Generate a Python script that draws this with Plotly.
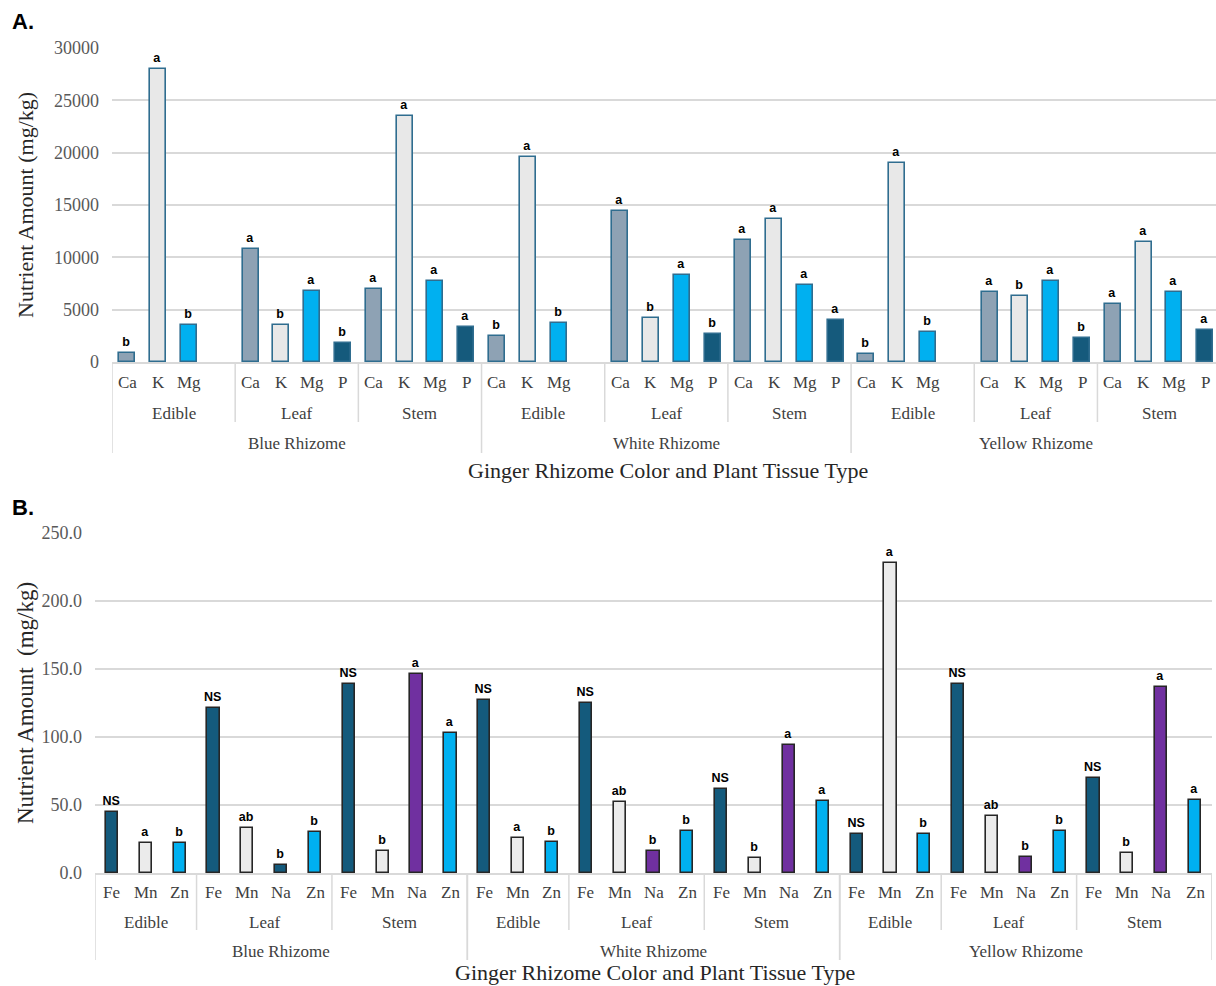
import plotly.graph_objects as go

W, H = 1216, 986

# ---------------- Panel A: macronutrients ----------------
a_rhizomes = ["Blue Rhizome", "White Rhizome", "Yellow Rhizome"]
a_tissues = ["Edible", "Leaf", "Stem"]
a_elements = ["Ca", "K", "Mg", "P"]

# values per rhizome, ordered Edible(Ca,K,Mg,P) Leaf(...) Stem(...); Edible has no P
a_blue = [900, 28000, 3500, None, 10800, 3500, 6800, 1800, 7000, 23500, 7700, 3300]
a_white = [2500, 19600, 3700, None, 14400, 4200, 8300, 2700, 11700, 13700, 7400, 4000]
a_yellow = [800, 19000, 2900, None, 6700, 6300, 7700, 2300, 5500, 11500, 6700, 3100]

a_blue_sig = ["b", "a", "b", "", "a", "b", "a", "b", "a", "a", "a", "a"]
a_white_sig = ["b", "a", "b", "", "a", "b", "a", "b", "a", "a", "a", "a"]
a_yellow_sig = ["b", "a", "b", "", "a", "b", "a", "b", "a", "a", "a", "a"]

a_ticks = [0, 5000, 10000, 15000, 20000, 25000, 30000]

# ---------------- Panel B: micronutrients ----------------
b_rhizomes = ["Blue Rhizome", "White Rhizome", "Yellow Rhizome"]
b_tissues = ["Edible", "Leaf", "Stem"]
b_tissue_elements = [["Fe", "Mn", "Zn"], ["Fe", "Mn", "Na", "Zn"], ["Fe", "Mn", "Na", "Zn"]]

b_blue = [45, 22, 22, 121, 33, 6, 30, 139, 16, 146, 103]
b_white = [127, 26, 23, 125, 52, 16, 31, 62, 11, 94, 53]
b_yellow = [29, 228, 29, 139, 42, 12, 31, 70, 15, 137, 54]

b_blue_sig = ["NS", "a", "b", "NS", "ab", "b", "b", "NS", "b", "a", "a"]
b_white_sig = ["NS", "a", "b", "NS", "ab", "b", "b", "NS", "b", "a", "a"]
b_yellow_sig = ["NS", "a", "b", "NS", "ab", "b", "b", "NS", "b", "a", "a"]

b_ticks = [0, 50, 100, 150, 200, 250]

# ---------------- styling ----------------
SERIF = "Liberation Serif"
SANS = "Liberation Sans"
LABEL_C = "#404040"
GRID_C = "#d9d9d9"

a_fill = {"Ca": "#8ea2b4", "K": "#e8e8e8", "Mg": "#00b0f0", "P": "#155a7c"}
a_edge = "#2f6d8f"
b_fill = {"Fe": "#145a7c", "Mn": "#ebebeb", "Na": "#7030a0", "Zn": "#00b0f0"}
b_edge = "#262626"
# the Blue Rhizome leaf sodium bar is drawn in the iron colour
b_fill_override = {("Blue Rhizome", "Leaf", "Na"): "#145a7c"}


def ypx(p):
    return 1 - p / H


def label(x, y, text, xref, size=17, color=LABEL_C, family=SERIF, angle=0):
    return dict(x=x, y=y, xref=xref, yref="paper", text=text, showarrow=False,
                xanchor="center", yanchor="middle", textangle=angle,
                font=dict(family=family, size=size, color=color))


fig = go.Figure()
annotations = []
shapes = []

# ---- build panel A ----
ax_x, ax_y, ax_lab, ax_sig, ax_col = [], [], [], [], []
for r, vals, sig in zip(range(3), [a_blue, a_white, a_yellow], [a_blue_sig, a_white_sig, a_yellow_sig]):
    for t in range(3):
        for s, el in enumerate(a_elements):
            i = t * 4 + s
            v = vals[i]
            ax_x.append(r * 12 + t * 4 + s)
            ax_y.append(v)
            ax_lab.append(el if v is not None else "")
            ax_sig.append(f"<b>{sig[i]}</b>" if sig[i] else "")
            ax_col.append(a_fill[el])

fig.add_trace(go.Bar(
    x=ax_x, y=ax_y, xaxis="x", yaxis="y", width=0.52,
    marker=dict(color=ax_col, line=dict(color=a_edge, width=1.6)),
    text=ax_sig, textposition="outside", cliponaxis=False,
    textfont=dict(family=SANS, size=12.5, color="#000000"),
    constraintext="none", hoverinfo="x+y", showlegend=False,
))

a_axis_px, a_elem_px, a_tis_px, a_rh_px = 362, 383, 413, 443
for x, lab in zip(ax_x, ax_lab):
    annotations.append(label(x, ypx(a_elem_px), lab, "x"))
for r in range(3):
    for t in range(3):
        annotations.append(label(r * 12 + t * 4 + 1.5, ypx(a_tis_px), a_tissues[t], "x"))
        if t > 0:
            shapes.append(dict(type="line", xref="x", yref="paper", x0=r * 12 + t * 4 - 0.5,
                               x1=r * 12 + t * 4 - 0.5, y0=ypx(a_axis_px), y1=ypx(422),
                               line=dict(color=GRID_C, width=1.5)))
    annotations.append(label(r * 12 + 5.5, ypx(a_rh_px), a_rhizomes[r], "x"))
    shapes.append(dict(type="line", xref="x", yref="paper", x0=r * 12 - 0.5, x1=r * 12 - 0.5,
                       y0=ypx(a_axis_px), y1=ypx(453), line=dict(color=GRID_C, width=1.5)))

# ---- build panel B ----
bx_x, bx_y, bx_lab, bx_sig, bx_col = [], [], [], [], []
b_groups = []
pos = 0
for rname, vals, sig in zip(b_rhizomes, [b_blue, b_white, b_yellow], [b_blue_sig, b_white_sig, b_yellow_sig]):
    k = 0
    r_start = pos
    for tname, els in zip(b_tissues, b_tissue_elements):
        t_start = pos
        for el in els:
            bx_x.append(pos)
            bx_y.append(vals[k])
            bx_lab.append(el)
            bx_sig.append(f"<b>{sig[k]}</b>")
            bx_col.append(b_fill_override.get((rname, tname, el), b_fill[el]))
            k += 1
            pos += 1
        b_groups.append(("t", tname, t_start, pos - 1))
    b_groups.append(("r", rname, r_start, pos - 1))

fig.add_trace(go.Bar(
    x=bx_x, y=bx_y, xaxis="x2", yaxis="y2", width=0.36,
    marker=dict(color=bx_col, line=dict(color=b_edge, width=1.6)),
    text=bx_sig, textposition="outside", cliponaxis=False,
    textfont=dict(family=SANS, size=12.5, color="#000000"),
    constraintext="none", hoverinfo="x+y", showlegend=False,
))

b_axis_px, b_elem_px, b_tis_px, b_rh_px = 873, 892, 922, 951
for x, lab in zip(bx_x, bx_lab):
    annotations.append(label(x, ypx(b_elem_px), lab, "x2"))
for kind, name, s0, s1 in b_groups:
    if kind == "t":
        annotations.append(label((s0 + s1) / 2, ypx(b_tis_px), name, "x2"))
        shapes.append(dict(type="line", xref="x2", yref="paper", x0=s1 + 0.5, x1=s1 + 0.5,
                           y0=ypx(b_axis_px), y1=ypx(930), line=dict(color=GRID_C, width=1.5)))
    else:
        annotations.append(label((s0 + s1) / 2, ypx(b_rh_px), name, "x2"))
        for xb in (s0 - 0.5, s1 + 0.5):
            shapes.append(dict(type="line", xref="x2", yref="paper", x0=xb, x1=xb,
                               y0=ypx(b_axis_px), y1=ypx(960), line=dict(color=GRID_C, width=1.5)))

# ---- titles and panel letters ----
TITLE = "Ginger Rhizome Color and Plant Tissue Type"
annotations += [
    label(23 / W, ypx(22), "<b>A.</b>", "paper", size=22, color="#000000", family=SANS),
    label(23 / W, ypx(507), "<b>B.</b>", "paper", size=22, color="#000000", family=SANS),
    label(668 / W, ypx(470), TITLE, "paper", size=22, color="#262626"),
    label(655 / W, ypx(972), TITLE, "paper", size=22, color="#262626"),
    label(25 / W, ypx(205), "Nutrient Amount (mg/kg)", "paper", size=22, color="#262626", angle=-90),
    label(25 / W, ypx(703), "Nutrient Amount  (mg/kg)", "paper", size=23, color="#262626", angle=-90),
]

fig.update_layout(
    width=W, height=H,
    margin=dict(l=0, r=0, t=0, b=0, autoexpand=False),
    paper_bgcolor="#ffffff", plot_bgcolor="#ffffff",
    bargap=0, showlegend=False,
    xaxis=dict(domain=[112 / W, 1.0], range=[-0.5, 35.35], showticklabels=False, showgrid=False,
               zeroline=False, showline=True, linecolor=GRID_C, linewidth=1.5, automargin=False),
    yaxis=dict(domain=[ypx(362), ypx(48)], range=[0, 30000], tickvals=a_ticks,
               ticktext=[str(v) for v in a_ticks], showgrid=True, gridcolor=GRID_C, gridwidth=1.5,
               zeroline=False, showline=False, ticks="", ticklabelstandoff=12, automargin=False,
               tickfont=dict(family=SERIF, size=18, color="#595959")),
    xaxis2=dict(domain=[95 / W, 1212 / W], range=[-0.5, 32.5], showticklabels=False, showgrid=False,
                zeroline=False, showline=True, linecolor=GRID_C, linewidth=1.5, anchor="y2",
                automargin=False),
    yaxis2=dict(domain=[ypx(873), ypx(533)], range=[0, 250], tickvals=b_ticks,
                ticktext=[f"{v:.1f}" for v in b_ticks], showgrid=True, gridcolor=GRID_C, gridwidth=1.5,
                zeroline=False, showline=False, ticks="", ticklabelstandoff=12, anchor="x2",
                automargin=False, tickfont=dict(family=SERIF, size=18, color="#595959")),
    annotations=annotations,
    shapes=shapes,
)

fig.write_html("out.html")
